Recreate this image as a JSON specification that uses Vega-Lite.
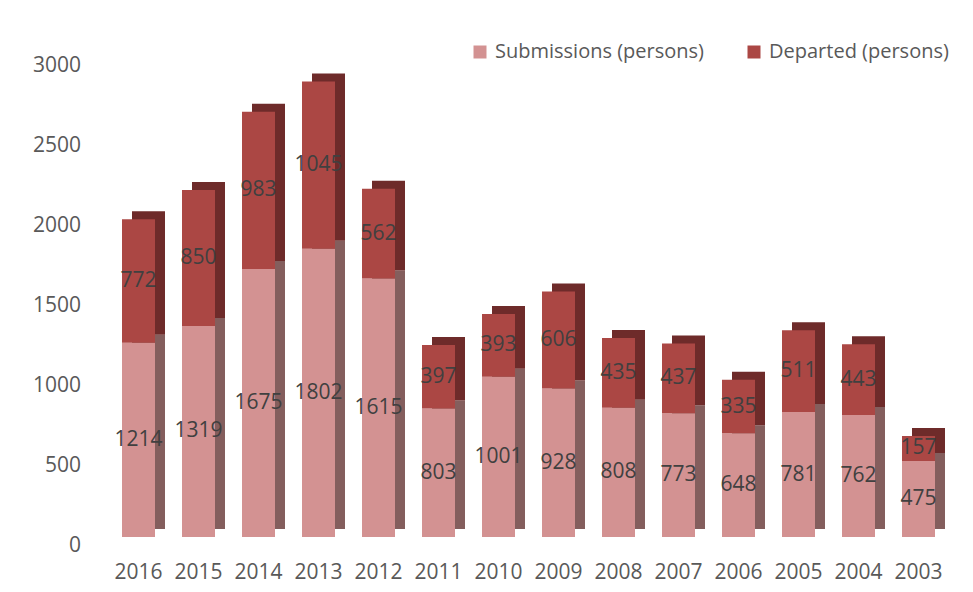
{
  "$schema": "https://vega.github.io/schema/vega-lite/v6.json",
  "width": 840,
  "height": 480,
  "autosize": {"type": "none"},
  "padding": {"left": 108.5, "top": 57, "right": 24.5, "bottom": 55},
  "background": "#ffffff",
  "config": {
    "view": {"stroke": null},
    "font": "Open Sans",
    "axis": {"domain": false, "ticks": false, "grid": false, "labelFont": "Open Sans", "labelFontSize": 21, "labelColor": "#595959", "title": null},
    "legend": {"labelFont": "Open Sans", "labelFontSize": 20, "labelColor": "#595959", "labelLimit": 0}
  },
  "data": {
    "values": [
      {"year": "2016", "series": "Submissions (persons)", "value": 1214},
      {"year": "2016", "series": "Departed (persons)", "value": 772},
      {"year": "2015", "series": "Submissions (persons)", "value": 1319},
      {"year": "2015", "series": "Departed (persons)", "value": 850},
      {"year": "2014", "series": "Submissions (persons)", "value": 1675},
      {"year": "2014", "series": "Departed (persons)", "value": 983},
      {"year": "2013", "series": "Submissions (persons)", "value": 1802},
      {"year": "2013", "series": "Departed (persons)", "value": 1045},
      {"year": "2012", "series": "Submissions (persons)", "value": 1615},
      {"year": "2012", "series": "Departed (persons)", "value": 562},
      {"year": "2011", "series": "Submissions (persons)", "value": 803},
      {"year": "2011", "series": "Departed (persons)", "value": 397},
      {"year": "2010", "series": "Submissions (persons)", "value": 1001},
      {"year": "2010", "series": "Departed (persons)", "value": 393},
      {"year": "2009", "series": "Submissions (persons)", "value": 928},
      {"year": "2009", "series": "Departed (persons)", "value": 606},
      {"year": "2008", "series": "Submissions (persons)", "value": 808},
      {"year": "2008", "series": "Departed (persons)", "value": 435},
      {"year": "2007", "series": "Submissions (persons)", "value": 773},
      {"year": "2007", "series": "Departed (persons)", "value": 437},
      {"year": "2006", "series": "Submissions (persons)", "value": 648},
      {"year": "2006", "series": "Departed (persons)", "value": 335},
      {"year": "2005", "series": "Submissions (persons)", "value": 781},
      {"year": "2005", "series": "Departed (persons)", "value": 511},
      {"year": "2004", "series": "Submissions (persons)", "value": 762},
      {"year": "2004", "series": "Departed (persons)", "value": 443},
      {"year": "2003", "series": "Submissions (persons)", "value": 475},
      {"year": "2003", "series": "Departed (persons)", "value": 157}
    ]
  },
  "transform": [
    {"stack": "value", "groupby": ["year"], "sort": [{"field": "series", "order": "descending"}], "as": ["s0", "s1"]},
    {"calculate": "(datum.s0 + datum.s1) / 2", "as": "mid"}
  ],
  "encoding": {
    "x": {
      "field": "year", "type": "nominal", "sort": "descending",
      "scale": {"paddingInner": 0.45, "paddingOuter": 0.225},
      "axis": {"labelAngle": 0, "labelPadding": 24}
    }
  },
  "layer": [
    {
      "mark": {"type": "bar", "xOffset": 10, "x2Offset": 10, "yOffset": -8, "y2Offset": -8},
      "encoding": {
        "y": {"field": "s0", "type": "quantitative", "scale": {"domain": [0, 3000]},
              "axis": {"values": [0, 500, 1000, 1500, 2000, 2500, 3000], "format": "d", "labelPadding": 28, "labelOffset": 8}},
        "y2": {"field": "s1"},
        "color": {"field": "series", "type": "nominal",
                  "scale": {"domain": ["Submissions (persons)", "Departed (persons)"], "range": ["#845e5d", "#6e2b2a"]},
                  "legend": null}
      }
    },
    {
      "mark": {"type": "bar"},
      "encoding": {
        "y": {"field": "s0", "type": "quantitative"},
        "y2": {"field": "s1"},
        "color": {"field": "series", "type": "nominal",
                  "scale": {"domain": ["Submissions (persons)", "Departed (persons)"], "range": ["#d39292", "#ab4744"]},
                  "legend": {"title": null, "orient": "none", "direction": "horizontal", "legendX": 361.5, "legendY": -15,
                             "padding": 0, "symbolType": "square", "symbolSize": 169, "symbolStrokeWidth": 0,
                             "labelOffset": 5, "columnPadding": 40}}
      }
    },
    {
      "mark": {"type": "text", "fontSize": 21, "color": "#404040", "font": "Open Sans"},
      "encoding": {
        "y": {"field": "mid", "type": "quantitative"},
        "text": {"field": "value", "type": "quantitative", "format": "d"}
      }
    }
  ],
  "resolve": {"scale": {"color": "independent"}}
}
